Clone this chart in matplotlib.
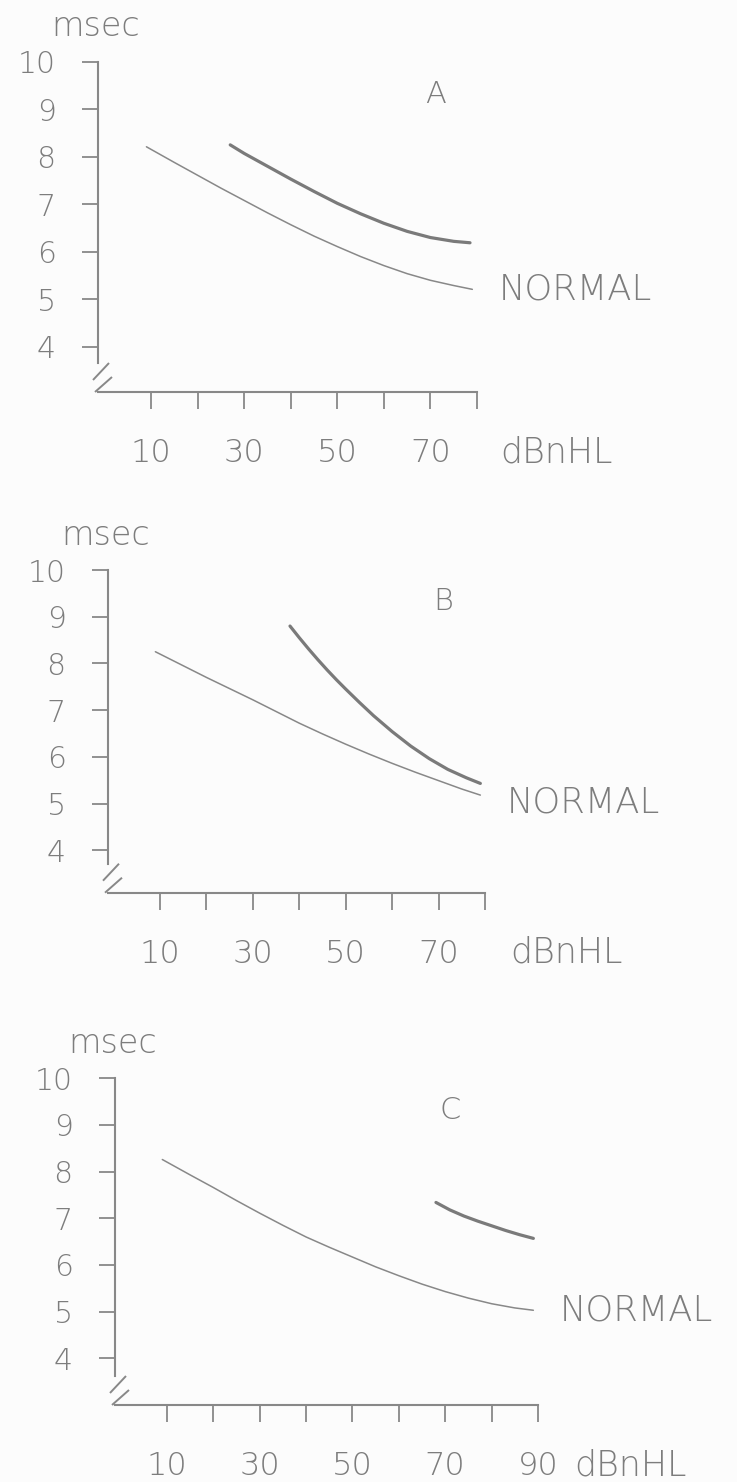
"""Latency-intensity plots, panels A, B and C, each against the normal curve."""

import matplotlib
matplotlib.use("Agg")
import matplotlib.pyplot as plt

FIG_W, FIG_H = 737, 1482

# ---- data (dB nHL vs latency in msec) ----
a_normal_db = [9, 15, 20, 25, 30, 35, 40, 45, 50, 55, 60, 65, 70, 75, 79]
a_normal_ms = [8.21, 7.88, 7.61, 7.34, 7.08, 6.82, 6.57, 6.33, 6.11, 5.90, 5.71, 5.54, 5.40, 5.29, 5.21]
a_patient_db = [27, 30, 35, 40, 45, 50, 55, 60, 65, 70, 75, 78.5]
a_patient_ms = [8.25, 8.07, 7.80, 7.53, 7.27, 7.02, 6.80, 6.60, 6.43, 6.30, 6.22, 6.19]

b_normal_db = [9, 15, 20, 25, 30, 35, 40, 45, 50, 55, 60, 65, 70, 75, 79]
b_normal_ms = [8.25, 7.95, 7.70, 7.46, 7.22, 6.97, 6.72, 6.49, 6.27, 6.06, 5.86, 5.67, 5.49, 5.31, 5.18]
b_patient_db = [38, 40, 42, 44, 46, 48, 50, 53, 56, 60, 64, 68, 72, 76, 79]
b_patient_ms = [8.80, 8.55, 8.31, 8.08, 7.86, 7.65, 7.45, 7.16, 6.88, 6.54, 6.23, 5.96, 5.73, 5.55, 5.43]

c_normal_db = [9, 15, 20, 25, 30, 35, 40, 45, 50, 55, 60, 65, 70, 75, 80, 85, 89]
c_normal_ms = [8.26, 7.93, 7.66, 7.38, 7.11, 6.85, 6.60, 6.38, 6.17, 5.96, 5.77, 5.59, 5.43, 5.29, 5.17, 5.08, 5.03]
c_patient_db = [68, 71, 74, 77, 80, 83, 86, 89]
c_patient_ms = [7.34, 7.18, 7.05, 6.94, 6.84, 6.74, 6.65, 6.57]

y_ticks = [4, 5, 6, 7, 8, 9, 10]
x_ticks_80 = [10, 20, 30, 40, 50, 60, 70, 80]
x_labels_80 = ["10", "", "30", "", "50", "", "70", ""]
x_ticks_90 = [10, 20, 30, 40, 50, 60, 70, 80, 90]
x_labels_90 = ["10", "", "30", "", "50", "", "70", "", "90"]

INK = "#888888"
TEXT = "#7d7d7d"

# pixel boxes (left, top, right, bottom) of each plot frame, plus limits
LAYOUT = {
    "A": {"box": (98, 61.7, 477, 392), "xlim": (-1.4, 80), "ylim": (3.05, 10), "unit_x": 85.1, "normal_dy": 0},
    "B": {"box": (108, 570, 485, 892.7), "xlim": (-1.2, 80), "ylim": (3.09, 10), "unit_x": 85.4, "normal_dy": -5},
    "C": {"box": (115, 1078.3, 538, 1405), "xlim": (-1.2, 90), "ylim": (3.0, 10), "unit_x": 97.8, "normal_dy": 0},
}

X_TICK_LEN, X_TICK_PAD, X_LABEL_SIZE = 12, 21, 23


def add_frame(fig, box):
    left, top, right, bottom = box
    rect = [left / FIG_W, 1 - bottom / FIG_H, (right - left) / FIG_W, (bottom - top) / FIG_H]
    return fig.add_axes(rect)


def draw_break(ax, box):
    # two short slashes where the latency axis is broken
    left, top, right, bottom = box
    w, h = right - left, bottom - top
    for (x0, y0), (x1, y1) in (((-5, 12), (11, 29)), ((-3, 0), (14, 15))):
        ax.plot([x0 / w, x1 / w], [y0 / h, y1 / h], transform=ax.transAxes,
                color=INK, lw=1.4, clip_on=False, solid_capstyle="butt")


def draw_panel(ax, letter, normal, patient, xticks, xlabels):
    cfg = LAYOUT[letter]
    box = cfg["box"]
    ax.set_xlim(*cfg["xlim"])
    ax.set_ylim(*cfg["ylim"])
    ax.patch.set_alpha(0)

    for side in ("top", "right"):
        ax.spines[side].set_visible(False)
    for side in ("left", "bottom"):
        ax.spines[side].set_color(INK)
        ax.spines[side].set_linewidth(1.5)
    px_per_unit = (box[3] - box[1]) / (cfg["ylim"][1] - cfg["ylim"][0])
    ax.spines["left"].set_bounds(cfg["ylim"][0] + 29 / px_per_unit, 10)
    draw_break(ax, box)

    ax.set_yticks(y_ticks)
    ax.set_yticklabels([str(t) for t in y_ticks])
    ax.set_xticks(xticks)
    ax.set_xticklabels(xlabels)
    ax.tick_params(axis="y", direction="out", length=11.5, width=1.3, color=INK,
                   pad=19, labelsize=21.5, labelcolor=TEXT)
    ax.tick_params(axis="x", direction="out", length=X_TICK_LEN, width=1.3, color=INK,
                   pad=X_TICK_PAD, labelsize=X_LABEL_SIZE, labelcolor=TEXT)

    ax.plot(normal[0], normal[1], color=INK, lw=1.1, solid_capstyle="round")
    ax.plot(patient[0], patient[1], color="#7a7a7a", lw=2.3, solid_capstyle="round")

    ax.annotate("NORMAL", xy=(normal[0][-1], normal[1][-1]), xytext=(19, cfg["normal_dy"]),
                textcoords="offset points", ha="left", va="center",
                fontsize=25.5, color=TEXT)
    # unit label sits on the same baseline as the tick numbers
    baseline = -(X_TICK_LEN + X_TICK_PAD + 0.76 * X_LABEL_SIZE)
    ax.annotate("dBnHL", xy=(cfg["unit_x"], 0), xycoords=("data", "axes fraction"),
                xytext=(0, baseline), textcoords="offset points", ha="left", va="baseline",
                fontsize=25, color=TEXT, annotation_clip=False)
    ax.annotate("msec", xy=(0, 1), xycoords="axes fraction", xytext=(-2, 25),
                textcoords="offset points", ha="center", va="center",
                fontsize=24, color=TEXT)
    ax.text(71, 9.32, letter, ha="center", va="center", fontsize=22, color=TEXT)


def main():
    plt.rcParams["font.family"] = ["DejaVu Sans"]
    plt.rcParams["font.weight"] = "light"
    fig = plt.figure(figsize=(FIG_W / 100, FIG_H / 100), dpi=100, facecolor="#fcfcfc")

    panels = [
        ("A", (a_normal_db, a_normal_ms), (a_patient_db, a_patient_ms), x_ticks_80, x_labels_80),
        ("B", (b_normal_db, b_normal_ms), (b_patient_db, b_patient_ms), x_ticks_80, x_labels_80),
        ("C", (c_normal_db, c_normal_ms), (c_patient_db, c_patient_ms), x_ticks_90, x_labels_90),
    ]
    for letter, normal, patient, xticks, xlabels in panels:
        ax = add_frame(fig, LAYOUT[letter]["box"])
        draw_panel(ax, letter, normal, patient, xticks, xlabels)

    fig.savefig("out.png", dpi=100, facecolor=fig.get_facecolor())
    plt.close(fig)


if __name__ == "__main__":
    main()
